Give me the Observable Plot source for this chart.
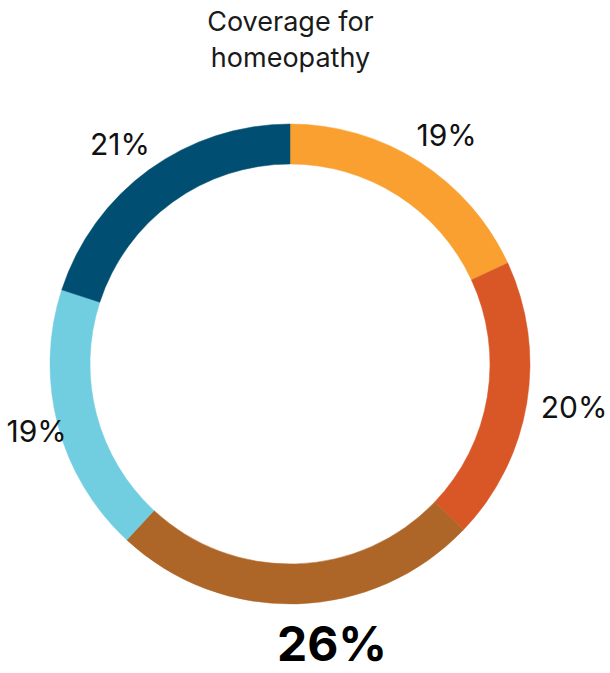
<!DOCTYPE html>
<html>
<head>
<meta charset="utf-8">
<script src="https://cdn.jsdelivr.net/npm/d3@7"></script>
<script src="https://cdn.jsdelivr.net/npm/@observablehq/plot@0.6"></script>
<style>
  html, body { margin: 0; padding: 0; background: #fff; }
  #chart svg { display: block; }
</style>
</head>
<body>
<div id="chart"></div>
<script>
// ---- data ----
const title = "Coverage for\nhomeopathy";
const categories = ["A", "B", "C", "D", "E"];
const values = [19, 20, 26, 19, 21];
const colors = ["#F9A031", "#D95627", "#AD6628", "#71CDE0", "#004F72"];

// ---- layout ----
const W = 610, H = 673;
const CX = 290, CY = 364;          // donut centre in pixels
const R_OUT = 240, R_IN = 200, R_LABEL = 260;
const FONT = "Inter, Lato, 'Noto Sans', sans-serif";
const LABEL_SIZE = 30, BIG_SIZE = 48;

const pie = d3.pie().sort(null).value(d => d.value);
const slices = pie(categories.map((c, i) => ({category: c, value: values[i], color: colors[i]})));
const maxVal = d3.max(values);

// measure label boxes so that each label sits just outside the ring
const ctx = document.createElement("canvas").getContext("2d");
slices.forEach(s => {
  s.mid = (s.startAngle + s.endAngle) / 2;
  s.big = s.data.value === maxVal;
  const fs = s.big ? BIG_SIZE : LABEL_SIZE;
  ctx.font = `${s.big ? "bold " : ""}${fs}px ${FONT}`;
  s.text = s.data.value + "%";
  s.w = ctx.measureText(s.text).width;
  s.h = fs * 0.72;
  const r = R_LABEL + (s.big ? 4 : 0);
  let lx = r * Math.sin(s.mid) + Math.sin(s.mid) * s.w / 2;
  let ly = r * Math.cos(s.mid) + Math.cos(s.mid) * s.h / 2;
  // keep the label inside the frame
  lx = Math.max(-CX + s.w / 2 + 6, Math.min(W - CX - s.w / 2 - 3, lx));
  s.lx = lx; s.ly = ly;
});

// function mark drawing the ring through the x/y scales
const ring = (index, scales) => {
  const x = scales.x, y = scales.y;
  const cx = x(0), cy = y(0);
  const k = x(1) - x(0);
  const arc = d3.arc().innerRadius(R_IN * k).outerRadius(R_OUT * k);
  const g = d3.create("svg:g").attr("transform", `translate(${cx},${cy})`);
  g.selectAll("path").data(slices).join("path")
    .attr("d", arc)
    .attr("fill", d => d.data.color)
    .attr("stroke", d => d.data.color)
    .attr("stroke-width", 0.5);
  return g.node();
};

const chart = Plot.plot({
  width: W,
  height: H,
  margin: 0,
  style: {fontFamily: FONT, background: "#fff"},
  x: {domain: [-CX, W - CX], range: [0, W], axis: null},
  y: {domain: [-(H - CY), CY], range: [H, 0], axis: null},
  marks: [
    ring,
    Plot.text([title], {
      x: () => 0, frameAnchor: "top", lineAnchor: "top", dy: 5,
      text: d => d, fontSize: 27, lineHeight: 1.33, fill: "#1a1a1a"
    }),
    Plot.text(slices.filter(d => !d.big), {
      x: "lx", y: "ly", text: "text", fontSize: LABEL_SIZE, fill: "#111"
    }),
    Plot.text(slices.filter(d => d.big), {
      x: "lx", y: "ly", dx: 32, text: "text",
      fontSize: BIG_SIZE, fontWeight: "bold", fill: "#000"
    })
  ]
});
document.getElementById("chart").appendChild(chart);
</script>
</body>
</html>
